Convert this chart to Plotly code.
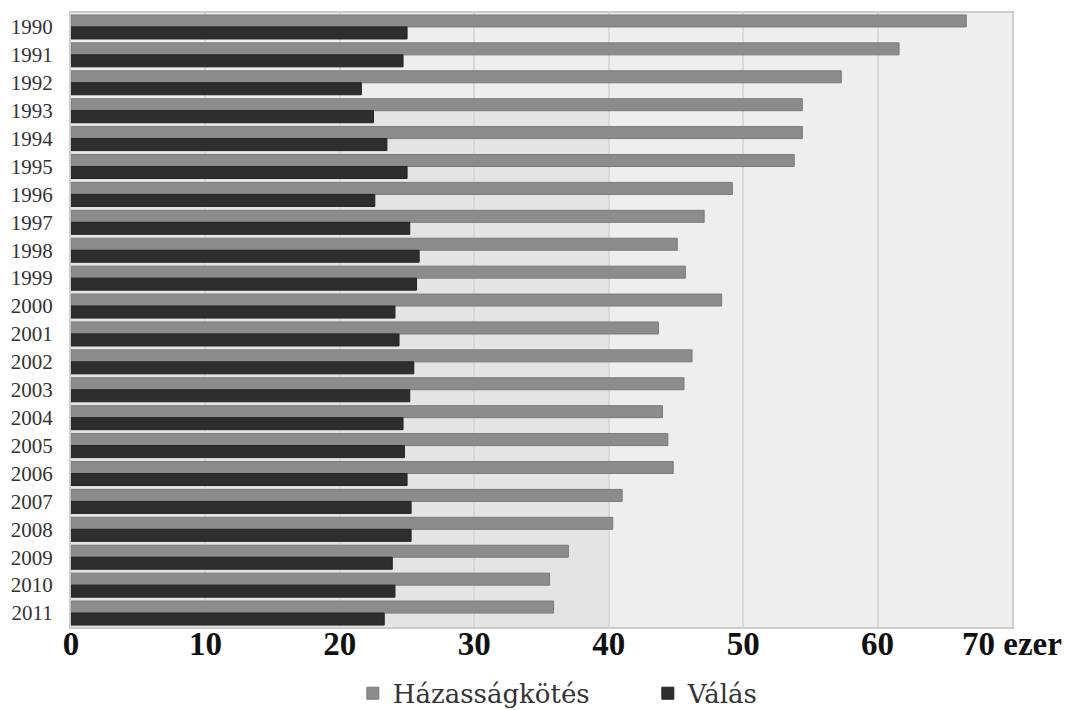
import plotly.graph_objects as go

# Évek (kategóriák)
years = [str(y) for y in range(1990, 2012)]

# Házasságkötések száma, ezer
marriages = [66.6, 61.6, 57.3, 54.4, 54.4, 53.8, 49.2, 47.1, 45.1, 45.7, 48.4,
             43.7, 46.2, 45.6, 44.0, 44.4, 44.8, 41.0, 40.3, 37.0, 35.6, 35.9]

# Válások száma, ezer
divorces = [25.0, 24.7, 21.6, 22.5, 23.5, 25.0, 22.6, 25.2, 25.9, 25.7, 24.1,
            24.4, 25.5, 25.2, 24.7, 24.8, 25.0, 25.3, 25.3, 23.9, 24.1, 23.3]

# X tengely feliratai
x_ticks = [0, 10, 20, 30, 40, 50, 60, 70]
x_labels = ["0", "10", "20", "30", "40", "50", "60", "70 ezer"]

fig = go.Figure()
fig.add_trace(go.Bar(
    name="Házasságkötés", y=years, x=marriages, orientation="h",
    marker=dict(color="#8c8c8c", line=dict(color="#7a7a7a", width=1)),
))
fig.add_trace(go.Bar(
    name="Válás", y=years, x=divorces, orientation="h",
    marker=dict(color="#2e2e2e", line=dict(color="#222222", width=1)),
))

fig.update_layout(
    width=1075, height=710,
    margin=dict(l=71, r=63, t=13, b=83, autoexpand=False),
    paper_bgcolor="white",
    plot_bgcolor="#eeeeee",
    barmode="group",
    bargap=0.14,
    bargroupgap=0,
    showlegend=True,
    legend=dict(
        orientation="h",
        x=0.613, xanchor="center",
        y=-0.108, yanchor="middle",
        font=dict(family="DejaVu Serif", size=26, color="#333333"),
        entrywidth=250,
        bgcolor="rgba(0,0,0,0)",
    ),
    shapes=[dict(
        type="rect", xref="x", yref="paper",
        x0=0, x1=40, y0=0, y1=0.86,
        fillcolor="#e4e4e4", line=dict(width=0), layer="below",
    )],
)

fig.update_xaxes(
    range=[0, 70],
    tickmode="array", tickvals=x_ticks, ticktext=x_labels,
    tickfont=dict(family="Liberation Serif", size=33, color="#111111", weight="bold"),
    showgrid=True, gridcolor="#d9d9d9", gridwidth=2,
    zeroline=False,
    showline=True, mirror=True, linecolor="#cccccc", linewidth=2,
    ticks="", ticklabelstandoff=-14, automargin=False,
)
fig.update_yaxes(
    type="category", autorange="reversed",
    tickfont=dict(family="Liberation Serif", size=21, color="#333333"),
    showgrid=False,
    showline=True, mirror=True, linecolor="#cccccc", linewidth=2,
    ticks="", ticklabelstandoff=12, automargin=False,
)

fig.write_html("out.html")
